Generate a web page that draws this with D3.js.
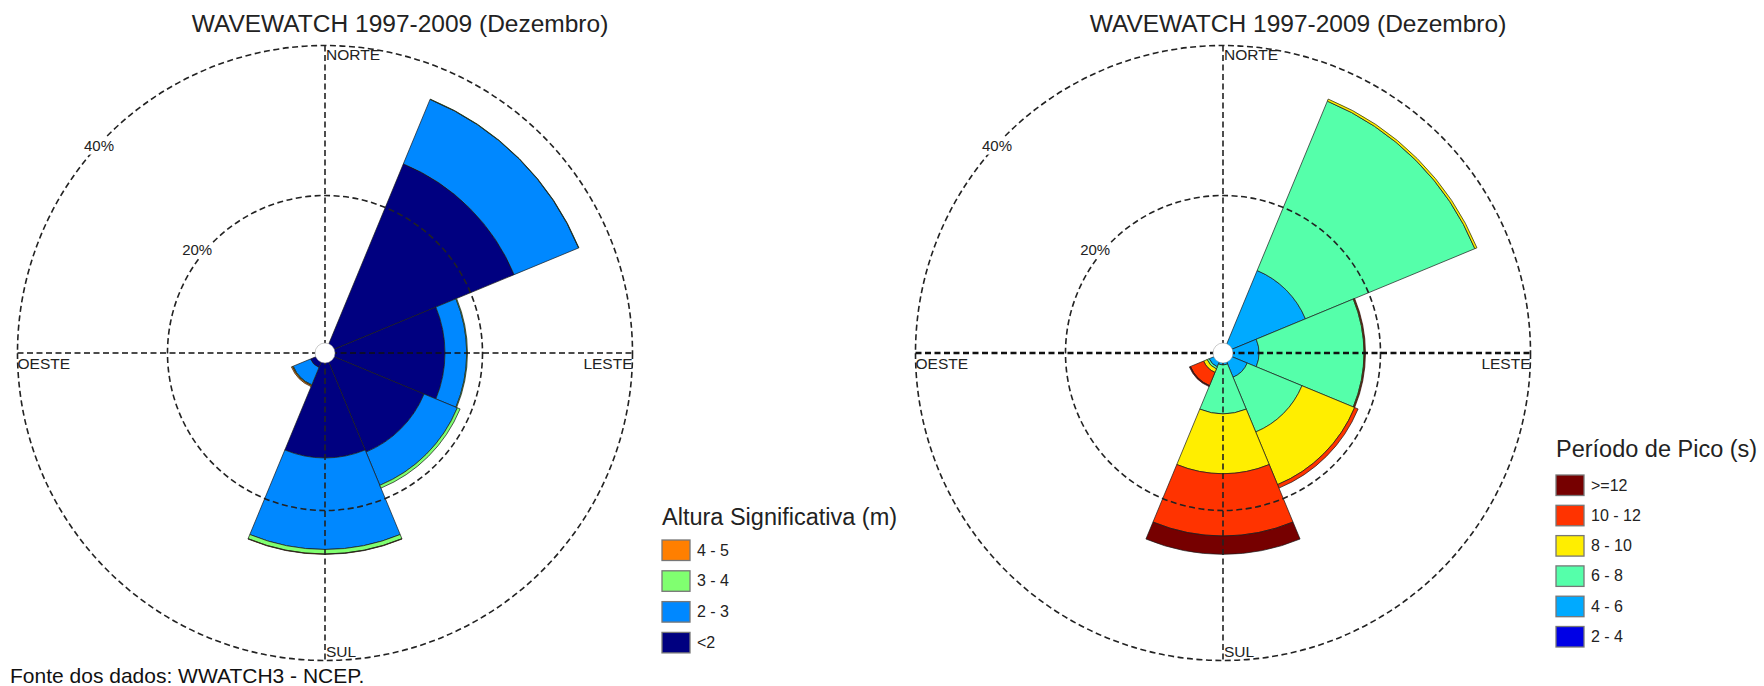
<!DOCTYPE html>
<html>
<head>
<meta charset="utf-8">
<script src="https://cdn.jsdelivr.net/npm/d3@7/dist/d3.min.js"></script>
<style>
  html, body { margin: 0; padding: 0; background: #fff; }
  svg { display: block; font-family: "Liberation Sans", Arial, sans-serif; }
</style>
</head>
<body>
<svg id="chart" width="1764" height="686"></svg>
<script>
// ---------------- DATA ----------------
const directions = ["N", "NE", "E", "SE", "S", "SW", "W", "NW"];
const directionAngles = [0, 45, 90, 135, 180, 225, 270, 315];
const cardinalLabels = ["NORTE", "LESTE", "SUL", "OESTE"];
const chartTitle = "WAVEWATCH 1997-2009 (Dezembro)";
const sourceNote = "Fonte dos dados: WWATCH3 - NCEP.";
const ringTicks = [20, 40];
const ringTickLabels = ["20%", "40%"];

// Altura significativa (m) – percentage per direction, from inner to outer class
const hsClasses = ["<2", "2 - 3", "3 - 4", "4 - 5"];
const hsLt2  = [0, 26.3, 15.0, 13.3, 13.0, 1.1, 0.2, 0];
const hs2to3 = [0, 9.3, 2.9, 4.8, 12.2, 2.5, 0, 0];
const hs3to4 = [0, 0.05, 0.1, 0.4, 0.6, 0.1, 0, 0];
const hs4to5 = [0, 0, 0, 0, 0.05, 0.15, 0, 0];
const hsColors = ["#000080", "#0088ff", "#80ff70", "#ff7f00"];
const hsLegendTitle = "Altura Significativa (m)";

// Período de pico (s)
const tpClasses = ["2 - 4", "4 - 6", "6 - 8", "8 - 10", "10 - 12", ">=12"];
const tp2to4   = [0, 0, 0, 0, 0, 0, 0, 0];
const tp4to6   = [0, 10.9, 3.8, 2.5, 0.6, 1.0, 0.2, 0];
const tp6to8   = [0, 24.45, 14.0, 7.9, 6.5, 0.3, 0, 0];
const tp8to10  = [0, 0.3, 0.1, 7.6, 8.0, 0.5, 0, 0];
const tp10to12 = [0, 0, 0.1, 0.5, 8.3, 1.9, 0, 0];
const tpGe12   = [0, 0, 0, 0, 2.45, 0.15, 0, 0];
const tpColors = ["#0000e6", "#00aaff", "#55ffaa", "#ffee00", "#ff3300", "#760000"];
const tpLegendTitle = "Período de Pico (s)";

// ---------------- DRAW ----------------
const svg = d3.select("#chart");

function drawRose(opts) {
  const { cx, cy, series, colors, legendTitle, classes, legend, hBold } = opts;
  const g = svg.append("g").attr("transform", `translate(${cx},${cy})`);
  const r = d3.scaleLinear().domain([0, 40]).range([7.5, 307.5]);
  const rad = d3.scaleLinear().domain([0, 360]).range([0, 2 * Math.PI]);
  const half = 22.5;

  // stack
  const rows = directions.map((d, i) => {
    const o = { dir: d, ang: directionAngles[i] };
    series.forEach((s, k) => { o["c" + k] = s[i]; });
    return o;
  });
  const keys = series.map((s, k) => "c" + k);
  const stacked = d3.stack().keys(keys)(rows);

  const arc = d3.arc()
    .innerRadius(d => r(d[0]))
    .outerRadius(d => r(d[1]))
    .startAngle(d => rad(d.data.ang - half))
    .endAngle(d => rad(d.data.ang + half));

  stacked.forEach((layer, k) => {
    g.append("g").selectAll("path")
      .data(layer.filter(d => d[1] - d[0] > 0))
      .join("path")
      .attr("d", arc)
      .attr("fill", colors[k])
      .attr("stroke", "#1a1a1a")
      .attr("stroke-width", 0.7)
      .attr("stroke-linejoin", "round");
  });

  // grid circles
  const R = r(40);
  g.selectAll("circle.ring").data(ringTicks).join("circle")
    .attr("class", "ring")
    .attr("r", d => r(d))
    .attr("fill", "none")
    .attr("stroke", "#222")
    .attr("stroke-width", 1.6)
    .attr("stroke-dasharray", "6,3.5");
  // cross lines
  g.append("line").attr("x1", 0).attr("x2", 0).attr("y1", -R).attr("y2", R)
    .attr("stroke", "#222").attr("stroke-width", 1.6).attr("stroke-dasharray", "6,3.5");
  g.append("line").attr("x1", -R).attr("x2", R).attr("y1", 0).attr("y2", 0)
    .attr("stroke", "#111").attr("stroke-width", hBold ? 2.3 : 1.6).attr("stroke-dasharray", "6,3.5");

  // center hole
  g.append("circle").attr("r", 10).attr("fill", "#fff").attr("stroke", "#999").attr("stroke-width", 0.5);

  // ring labels (angle and radial offset per ring), with white halo breaking the ring
  const labelAngles = [-51, -47.5];
  const labelOffsets = [7, -1];
  ringTicks.forEach((t, i) => {
    const a = rad(labelAngles[i]);
    const rr = r(t) + labelOffsets[i];
    g.append("text")
      .attr("x", rr * Math.sin(a))
      .attr("y", -rr * Math.cos(a))
      .attr("dy", "0.35em")
      .attr("text-anchor", "middle")
      .attr("font-size", 15)
      .attr("fill", "#222")
      .attr("stroke", "#fff")
      .attr("stroke-width", 7)
      .attr("stroke-linejoin", "round")
      .attr("paint-order", "stroke")
      .text(ringTickLabels[i]);
  });

  // cardinal labels
  g.append("text").attr("x", 1).attr("y", -R + 14).attr("font-size", 15.5).attr("fill", "#222").text(cardinalLabels[0]);
  g.append("text").attr("x", R).attr("y", 16).attr("text-anchor", "end").attr("font-size", 15.5).attr("fill", "#222").text(cardinalLabels[1]);
  g.append("text").attr("x", 1).attr("y", R - 4).attr("font-size", 15.5).attr("fill", "#222").text(cardinalLabels[2]);
  g.append("text").attr("x", -R).attr("y", 16).attr("font-size", 15.5).attr("fill", "#222").text(cardinalLabels[3]);

  // title
  svg.append("text").attr("x", cx + 75).attr("y", 32).attr("text-anchor", "middle")
    .attr("font-size", 24.5).attr("fill", "#222").text(chartTitle);

  // legend (top = last class)
  const lg = svg.append("g").attr("transform", `translate(${legend.x},${legend.y})`);
  lg.append("text").attr("x", 0).attr("y", 0).attr("font-size", 23.5).attr("fill", "#222").text(legendTitle);
  const order = classes.map((c, k) => k).reverse();
  order.forEach((k, j) => {
    const y = legend.boxTop + j * legend.step;
    lg.append("rect").attr("x", 0).attr("y", y).attr("width", 28).attr("height", 20.5)
      .attr("fill", colors[k]).attr("stroke", "#777").attr("stroke-width", 1.3);
    lg.append("text").attr("x", 35).attr("y", y + 15.5).attr("font-size", 16).attr("fill", "#222").text(classes[k]);
  });
}

drawRose({
  cx: 325, cy: 353,
  series: [hsLt2, hs2to3, hs3to4, hs4to5],
  colors: hsColors, classes: hsClasses, legendTitle: hsLegendTitle,
  legend: { x: 662, y: 525, boxTop: 15, step: 30.8 },
  hBold: false
});

drawRose({
  cx: 1223, cy: 353,
  series: [tp2to4, tp4to6, tp6to8, tp8to10, tp10to12, tpGe12],
  colors: tpColors, classes: tpClasses, legendTitle: tpLegendTitle,
  legend: { x: 1556, y: 457, boxTop: 18, step: 30.3 },
  hBold: true
});

svg.append("text").attr("x", 10).attr("y", 683).attr("font-size", 21).attr("fill", "#111").text(sourceNote);
</script>
</body>
</html>
